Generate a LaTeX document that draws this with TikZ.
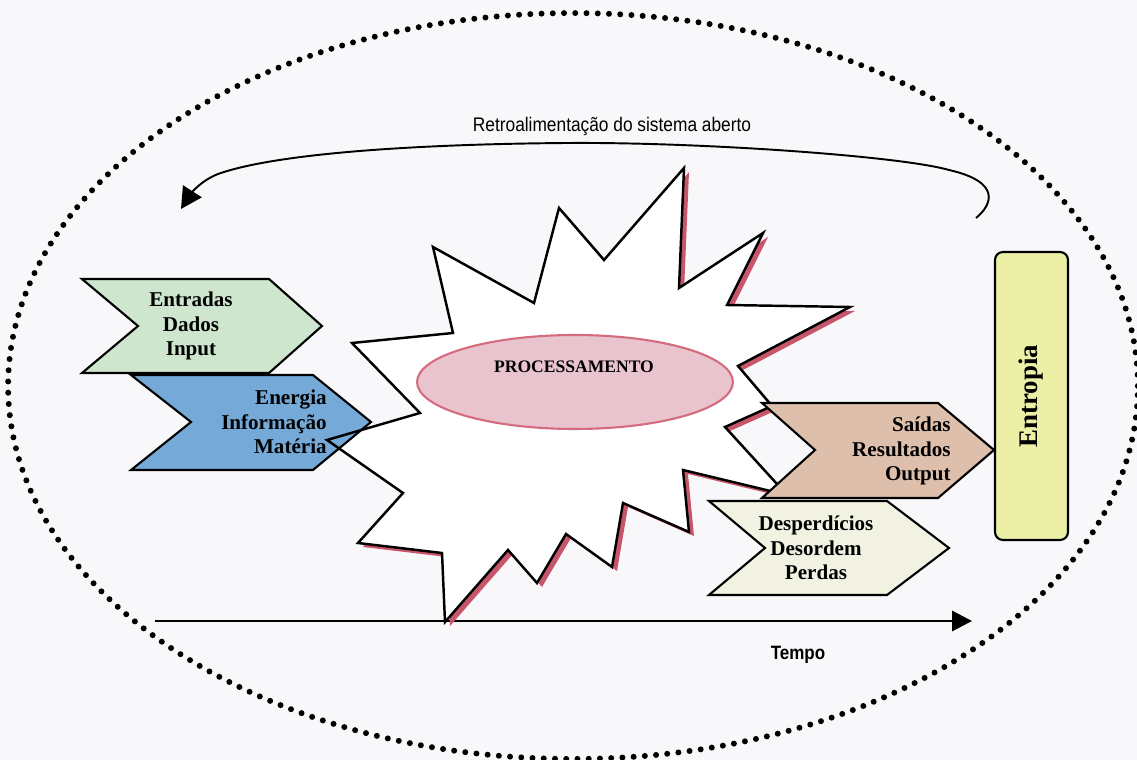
\documentclass[tikz,border=0pt]{standalone}
\usepackage{fontspec}
\setmainfont{Liberation Serif}
\newfontfamily\narrowsans[FakeStretch=0.88]{Liberation Sans}
\usetikzlibrary{arrows.meta,shapes.geometric}

\definecolor{paper}{HTML}{F8F8FB}
\definecolor{ingreen}{HTML}{CDE6CD}
\definecolor{inblue}{HTML}{74A9D8}
\definecolor{outtan}{HTML}{DDBFAB}
\definecolor{wastecream}{HTML}{F2F2E2}
\definecolor{entyellow}{HTML}{ECEFA6}
\definecolor{procfill}{HTML}{E9C4CE}
\definecolor{procedge}{HTML}{D56C7E}
\definecolor{burstshade}{HTML}{C8566A}

% outline of the processing "explosion"
\newcommand\burstpath{(684,168) -- (679,288) -- (763,233) -- (727,305) -- (850,307)
  -- (738,366) -- (772,406) -- (725,427) -- (787,495) -- (683,470) -- (689,532)
  -- (623,503) -- (612,567) -- (566,534) -- (537,583) -- (508,550) -- (445,622)
  -- (442,553) -- (358,543) -- (403,493) -- (327,440) -- (420,413) -- (352,343)
  -- (453,333) -- (433,247) -- (534,303) -- (559,208) -- (604,260) -- cycle}
\newcommand\energypath{(131,375) -- (313,375) -- (371,422) -- (313,470) -- (131,470) -- (191,422) -- cycle}

\begin{document}
\begin{tikzpicture}[x=0.02cm,y=-0.02cm,
  orbit/.style={line width=3.4pt, dash pattern=on 0pt off 6.4pt, line cap=round},
  chev/.style={draw=black, line width=1.2pt, line join=miter},
  burstline/.style={draw=black, line width=1.4pt, line join=miter},
  lbl/.style={font=\bfseries\fontsize{12}{13.9}\selectfont, inner sep=0pt},
  sanslbl/.style={font=\narrowsans\fontsize{11.2}{13}\selectfont, inner sep=0pt},
  flow/.style={line width=1.1pt, -{Triangle[length=11.3pt,width=11.5pt]}}]

\useasboundingbox (0,0) rectangle (1137,760);
\fill[paper] (0,0) rectangle (1137,760);

% open-system boundary
\draw[orbit] (573,386) ellipse [x radius=11.3cm, y radius=7.46cm];

% feedback loop
\coordinate (fbstart) at (976,218);
\coordinate (fbend) at (181,209);
\draw[line width=1.1pt, -{Triangle[length=12pt,width=12.5pt]}] (fbstart)
  .. controls (992,205) and (1002,182) .. (949,170)
  .. controls (900,156) and (700,142) .. (567,143)
  .. controls (430,144) and (280,152) .. (218,174)
  .. controls (200,181) and (190,195) .. (fbend);
\node[sanslbl] (fbtxt) at (612,126) {Retroalimentação do sistema aberto};

% time axis
\coordinate (tstart) at (155,621);
\coordinate (tend) at (972,621);
\draw[flow] (tstart) -- (tend);
\node[sanslbl, font=\narrowsans\bfseries\fontsize{11}{13}\selectfont] (tempo) at (798,655) {Tempo};

% processing burst with its offset shadow
\fill[burstshade, shift={(5,4)}] \burstpath;
\fill[white] \burstpath;
\draw[burstline] \burstpath;

\node[ellipse, fill=procfill, draw=procedge, line width=1.2pt,
  minimum width=6.32cm, minimum height=1.88cm] (proc) at (575,382) {};
\node[inner sep=0pt, font=\bfseries\fontsize{10}{12}\selectfont] (proctxt) at (574,367) {PROCESSAMENTO};

% inputs
\path[chev, fill=ingreen] (82,279) -- (269,279) -- (322,326) -- (269,373) -- (82,373) -- (138,326) -- cycle;
\path[chev, fill=inblue] \energypath;
\begin{scope}
  \clip \energypath;
  \draw[burstline] \burstpath;
\end{scope}
\node[lbl, align=center] (entradas) at (191,326) {Entradas\\Dados\\Input};
\node[lbl, align=right, anchor=east] (energia) at (327,422) {Energia\\Informação\\Matéria};

% outputs
\path[chev, fill=outtan] (762,403) -- (938,403) -- (994,450) -- (938,498) -- (762,498) -- (815,450) -- cycle;
\path[chev, fill=wastecream] (709,501) -- (887,501) -- (949,548) -- (887,595) -- (709,595) -- (765,548) -- cycle;
\node[lbl, align=right, anchor=east] (saidas) at (951,451) {Saídas\\Resultados\\Output};
\node[lbl, align=center] (perdas) at (816,548) {Desperdícios\\Desordem\\Perdas};

% entropy
\node[draw=black, fill=entyellow, line width=1.2pt, rounded corners=4.5pt, rotate=90,
  minimum width=5.76cm, minimum height=1.46cm, inner sep=0pt,
  font=\bfseries\fontsize{15.3}{18}\selectfont] (entropia) at (1031.5,396) {Entropia};
\end{tikzpicture}
\end{document}
